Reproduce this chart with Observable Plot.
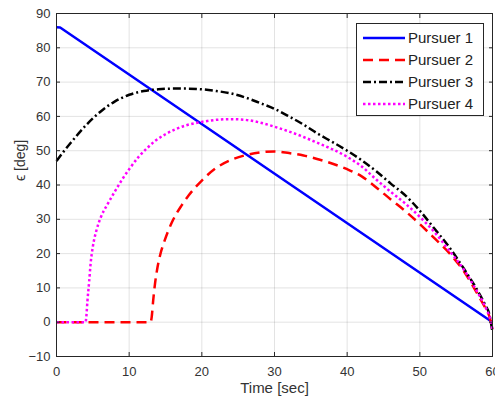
<!DOCTYPE html>
<html><head><meta charset="utf-8">
<script src="https://cdn.jsdelivr.net/npm/d3@7"></script>
<script src="https://cdn.jsdelivr.net/npm/@observablehq/plot@0.6"></script>
<style>
body{margin:0;background:#fff;}
#wrap{position:relative;width:495px;height:404px;}
#legend{position:absolute;left:356px;top:23px;}
</style></head><body><div id="wrap"></div>
<script>
const seriesNames = ["Pursuer 1", "Pursuer 2", "Pursuer 3", "Pursuer 4"];
const seriesColors = ["#0000ff", "#ff0000", "#000000", "#ff00ff"];
const seriesDash = [null, "10,6", "8,3,2,3", "2.5,2.5"];
const xTicks = [0, 10, 20, 30, 40, 50, 60];
const yTicks = [-10, 0, 10, 20, 30, 40, 50, 60, 70, 80, 90];
const xLabel = "Time [sec]";
const yLabel = "\u03f5 [deg]";

const pursuer1 = [[0, 86], [0.5, 85.9], [60, 0]];
const pursuer2 = [[0, 0], [12.95, 0], [13.1, 1.5], [13.3, 6.2], [13.55, 11.1], [13.9, 16], [14.3, 19.9], [14.8, 23.3], [15.9, 29.2], [17.2, 34], [18.2, 37], [20, 41.3], [22, 45], [24, 47.3], [26, 48.7], [28, 49.5], [30, 49.8], [32, 49.3], [34, 48.6], [36, 47.5], [38, 46.2], [40, 44.6], [42, 42.5], [44, 39.3], [46, 35.8], [48, 32.4], [50, 28.6], [52, 24.5], [54, 20.3], [56, 15], [58, 8], [59, 4.2], [59.6, 1.5], [60, -2]];
const pursuer3 = [[0, 47], [1, 49.8], [2, 52.4], [4, 57.3], [6, 61.3], [8, 64.3], [10, 66.3], [12, 67.4], [14, 67.9], [16, 68.1], [18, 68.1], [20, 67.9], [22, 67.4], [24, 66.7], [26, 65.5], [28, 63.9], [30, 62.2], [32, 60], [34, 57.6], [36, 54.9], [38, 52.5], [40, 50], [42, 47.2], [44, 44], [46, 40.4], [48, 37], [50, 32.5], [52, 27.3], [54, 22], [56, 15.8], [58, 9], [59, 5], [59.6, 2], [60, -3]];
const pursuer4 = [[0, 0], [4.0, 0], [4.1, 1.5], [4.25, 6], [4.5, 12], [4.7, 17.2], [5.0, 22], [5.5, 26.8], [6.1, 30.6], [7, 34.3], [8, 38], [9, 41.5], [10, 44.6], [11.3, 48.2], [12.5, 50.8], [13.6, 52.9], [15, 54.8], [16.4, 56.3], [18, 57.5], [20, 58.4], [22, 59], [24, 59.2], [26, 59], [28, 58.2], [30, 57], [32, 55.6], [34, 54], [36, 52.2], [38, 50.4], [40, 48.2], [42, 45.4], [44, 41.6], [46, 38], [48, 34.6], [50, 30.7], [52, 26.3], [54, 21], [56, 15.5], [58, 8.5], [59, 4.5], [59.6, 1.5], [60, -2]];

const allSeries = [pursuer1, pursuer2, pursuer3, pursuer4];
const font = "'Liberation Sans', Arial, sans-serif";
const axisColor = "#262626";

const lineMarks = allSeries.map((s, i) => Plot.line(s.map(([t, v]) => ({t, v})), {
  x: "t", y: "v",
  stroke: seriesColors[i],
  strokeWidth: 2.5,
  strokeDasharray: seriesDash[i],
  strokeLinecap: "butt",
  curve: i === 0 ? "linear" : "monotone-x"
}));

const chart = Plot.plot({
  width: 495,
  height: 404,
  marginLeft: 56,
  marginRight: 3,
  marginTop: 13,
  marginBottom: 48,
  style: {fontFamily: font, fontSize: "13px", color: "#333", background: "#fff"},
  x: {domain: [0, 60]},
  y: {domain: [-10, 90]},
  marks: [
    Plot.gridX(xTicks, {stroke: axisColor, strokeOpacity: 0.13}),
    Plot.gridY(yTicks, {stroke: axisColor, strokeOpacity: 0.13}),
    ...lineMarks,
    Plot.frame({stroke: axisColor, strokeWidth: 1}),
    Plot.axisX(xTicks, {anchor: "bottom", tickSize: -4, tickPadding: 14, label: null, stroke: axisColor}),
    Plot.axisX(xTicks, {anchor: "top", tickSize: -4, tickFormat: () => "", label: null, stroke: axisColor}),
    Plot.axisY(yTicks, {anchor: "left", tickSize: -4, tickPadding: 10, label: null, stroke: axisColor}),
    Plot.axisY(yTicks, {anchor: "right", tickSize: -4, tickFormat: () => "", label: null, stroke: axisColor}),
    Plot.text([xLabel], {frameAnchor: "bottom", dy: 36, text: d => d, fontSize: 15, fill: "#333"}),
    Plot.text([yLabel], {frameAnchor: "left", dx: -36, dy: -4, rotate: -90, text: d => d, fontSize: 14, fill: "#333"})
  ]
});
const wrap = document.getElementById("wrap");
wrap.appendChild(chart);

// Legend
const lw = 127, lh = 92;
const leg = d3.select(wrap).append("svg").attr("id", "legend")
  .attr("width", lw + 1).attr("height", lh + 1);
leg.append("rect").attr("x", 0.5).attr("y", 0.5).attr("width", lw).attr("height", lh)
  .attr("fill", "#fff").attr("stroke", axisColor).attr("stroke-width", 1);
seriesNames.forEach((name, i) => {
  const cy = 15 + i * 22;
  leg.append("line").attr("x1", 7).attr("x2", 49).attr("y1", cy).attr("y2", cy)
    .attr("stroke", seriesColors[i]).attr("stroke-width", 2.5)
    .attr("stroke-dasharray", seriesDash[i]);
  leg.append("text").attr("x", 52).attr("y", cy).attr("dy", "0.36em")
    .attr("font-family", font).attr("font-size", 15).attr("fill", "#222").text(name);
});
</script></body></html>
